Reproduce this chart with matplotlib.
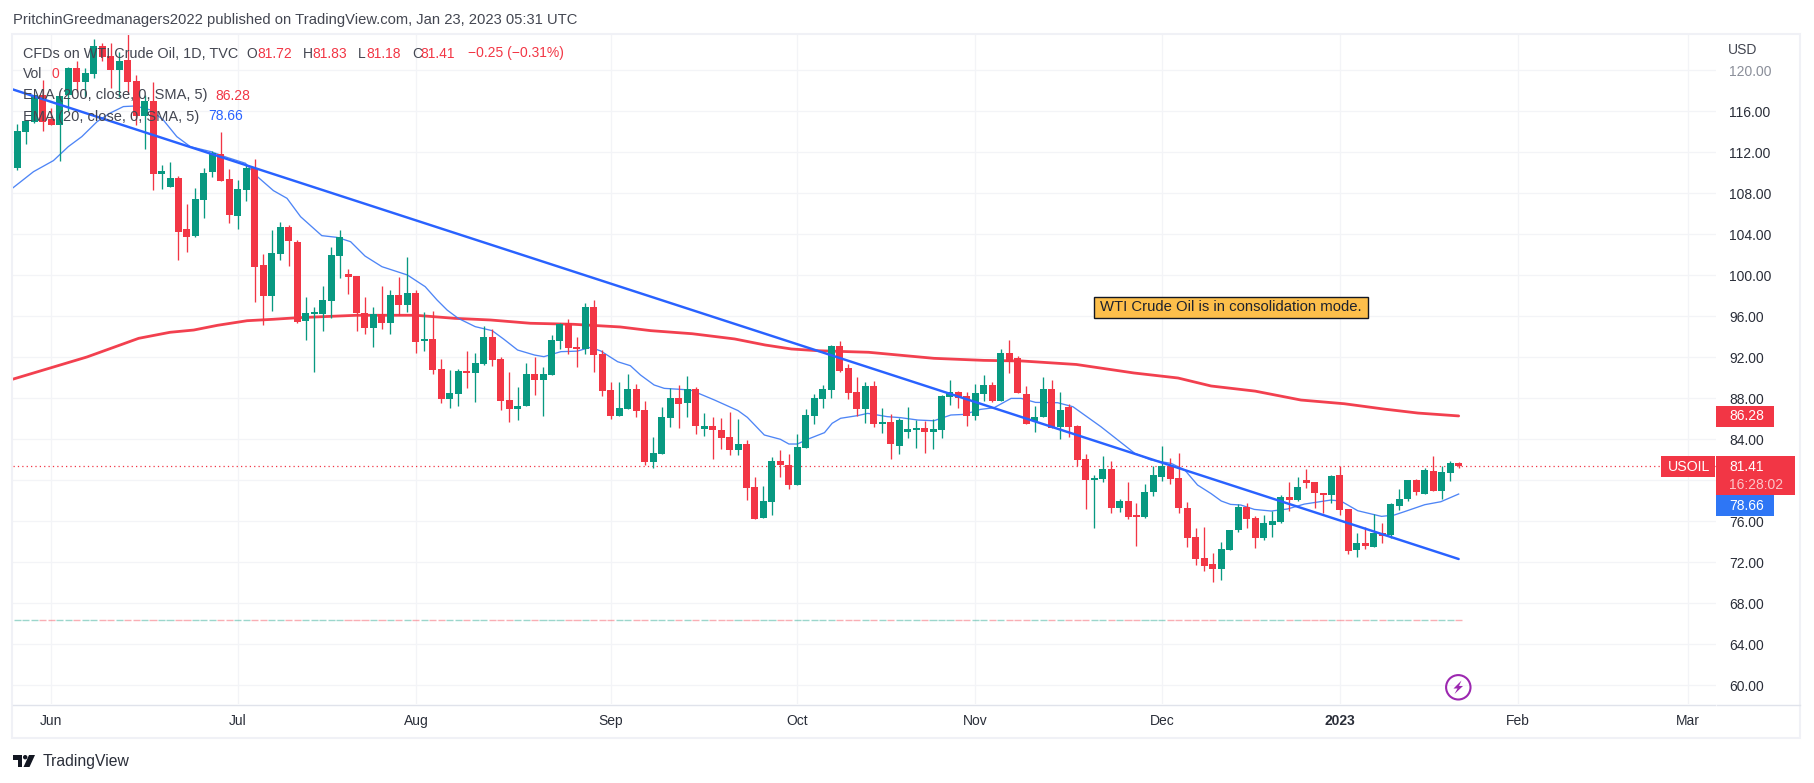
import matplotlib
matplotlib.use("Agg")
import matplotlib.pyplot as plt
from matplotlib.patches import Rectangle, Polygon, Circle

opens = [110.47,113.98,114.93,117.59,115.25,114.67,117.56,120.23,118.86,119.64,
122.37,121.40,120.03,121.01,118.96,115.55,117.01,109.89,108.62,109.50,
104.52,103.84,107.35,110.08,111.84,109.40,105.79,108.33,110.47,101.01,
97.99,102.08,104.72,103.25,95.54,96.23,96.23,97.49,101.88,100.13,
99.93,96.32,94.86,96.23,95.35,98.08,97.10,98.27,93.62,93.79,
90.86,87.93,88.42,90.66,90.47,91.35,93.98,91.83,87.83,86.96,
87.25,90.37,89.78,90.27,93.59,95.35,93.00,92.81,96.91,92.32,
88.81,86.27,86.96,88.91,86.86,81.79,82.57,86.08,88.03,87.54,
88.91,85.00,85.30,84.90,84.23,82.96,83.54,79.35,76.32,77.88,
81.88,81.49,79.54,83.15,86.27,87.93,88.81,93.10,90.96,88.62,
86.96,89.20,85.49,85.69,83.35,84.71,84.90,85.10,84.71,84.90,
88.12,88.61,88.22,86.27,88.42,89.29,87.73,92.42,91.93,88.42,
85.78,86.17,88.90,85.20,87.15,85.29,82.07,80.03,80.12,81.10,
77.29,77.98,76.52,76.42,78.85,80.32,81.39,80.22,77.29,74.46,
72.42,71.83,71.34,73.20,75.15,77.39,76.32,74.37,75.63,75.93,
78.37,78.07,80.02,79.83,78.76,78.56,80.51,77.20,73.20,73.88,
73.49,74.85,74.66,77.49,78.17,80.02,78.66,80.90,78.95,80.70,81.72]
highs = [114.77,115.03,117.59,119.06,116.29,117.50,120.29,120.91,120.20,123.03,
122.63,122.63,121.82,124.00,119.55,117.59,118.86,110.77,111.06,109.69,
106.96,108.50,110.47,112.13,113.98,110.37,109.30,110.77,111.35,102.08,
104.42,105.20,104.91,103.40,97.88,96.91,98.96,102.76,104.42,100.61,
99.93,97.88,96.91,98.96,98.57,99.84,101.79,98.57,96.42,96.52,
91.83,90.76,90.86,92.61,92.42,95.05,94.76,92.03,90.57,89.10,
91.44,92.03,91.05,94.17,95.35,95.74,93.98,97.30,97.59,92.71,
89.59,89.59,90.37,89.40,87.74,84.23,87.15,89.00,89.30,90.18,
89.10,86.57,86.18,86.08,86.66,85.98,83.93,80.32,79.44,82.27,
82.96,82.57,84.52,86.96,88.43,89.30,93.20,93.59,91.35,90.08,
89.59,89.69,87.05,86.47,86.08,87.15,85.88,85.78,85.98,88.32,
89.78,88.71,88.61,89.39,90.27,89.59,92.81,93.68,92.12,89.20,
87.24,90.07,89.78,88.61,87.44,85.39,82.56,80.51,82.37,81.88,
78.17,79.83,77.78,79.63,81.39,83.34,82.17,82.66,77.88,75.34,
75.44,72.90,73.98,75.15,77.68,77.78,76.51,76.61,77.00,78.56,
79.83,80.32,81.10,79.83,78.76,80.51,81.39,77.20,74.85,75.44,
76.71,75.83,77.78,79.15,80.02,80.12,81.20,82.37,81.39,81.88,81.83]
lows = [110.28,112.81,114.83,114.08,114.67,111.19,116.03,117.92,117.37,119.25,
120.88,118.31,117.43,117.69,114.67,112.33,108.33,108.42,108.62,101.50,
102.28,103.74,105.59,109.59,109.20,105.11,104.52,107.25,97.40,95.15,
96.52,101.50,100.91,95.38,93.69,90.57,94.57,95.83,99.74,98.18,
94.57,94.27,93.00,94.76,94.27,96.13,96.42,92.42,92.61,90.37,
87.54,87.05,87.25,89.00,87.64,91.25,91.15,86.86,85.69,85.88,
87.25,88.32,86.27,90.27,92.81,92.32,91.05,92.32,90.57,88.22,
85.98,86.27,86.96,86.18,81.49,81.20,82.57,85.20,85.10,86.18,
84.52,84.32,82.08,83.05,82.47,82.47,78.08,76.23,76.32,76.62,
80.32,79.15,79.54,83.15,85.49,87.05,88.03,90.57,87.93,86.27,
85.59,85.20,84.62,82.08,82.57,84.13,83.15,82.66,83.05,84.12,
87.34,87.05,85.30,85.88,87.73,87.64,87.73,90.46,88.51,85.49,
84.71,86.17,85.10,84.03,84.22,81.39,77.20,75.34,79.83,76.81,
76.90,76.22,73.59,76.32,78.46,79.93,79.63,76.81,73.49,71.73,
71.15,70.07,70.27,73.20,74.95,75.34,73.39,74.17,74.46,75.83,
77.00,77.98,79.24,77.29,76.81,77.78,76.61,72.80,72.51,73.29,
73.49,73.88,74.37,77.10,77.98,78.56,78.66,78.95,78.17,79.93,81.18]
closes = [114.08,115.03,117.59,114.99,114.67,117.50,120.23,118.86,119.74,122.37,
121.30,120.03,120.91,118.86,115.55,117.01,109.89,110.18,109.50,104.23,
103.74,107.45,109.98,111.94,109.20,105.89,108.42,110.47,100.81,97.99,
102.18,104.72,103.35,95.47,96.32,96.42,97.59,101.98,103.74,99.84,
96.32,94.86,96.23,95.35,98.08,97.10,98.27,93.50,93.79,90.76,
87.93,88.52,90.66,90.47,91.44,93.98,91.74,87.74,86.96,87.25,
90.37,89.78,90.37,93.69,95.25,92.91,92.81,96.91,92.22,88.71,
86.27,87.05,88.91,86.76,81.79,82.66,86.18,88.03,87.45,88.91,
85.27,85.30,84.90,84.13,82.96,83.54,79.25,76.23,77.98,81.88,
81.49,79.54,83.25,86.37,88.03,88.91,93.10,90.66,88.52,86.96,
89.20,85.49,85.69,83.54,85.88,85.00,85.10,84.71,85.00,88.22,
88.61,88.02,86.27,88.51,89.29,87.73,92.42,91.54,88.51,85.49,
86.17,88.90,85.10,86.86,85.20,81.98,80.03,80.22,81.10,77.29,
77.98,76.42,76.42,78.85,80.51,81.39,80.12,77.29,74.37,72.32,
71.63,71.34,73.29,75.15,77.39,76.22,74.37,75.83,76.02,78.37,
78.07,79.34,79.73,78.76,78.56,80.41,77.10,73.10,73.88,73.59,
74.85,74.56,77.68,78.17,80.02,78.85,81.00,78.95,80.80,81.68,81.41]

ema200_idx = [-0.6,4,8.2,14.3,18,20.8,23.6,27.1,30.2,33,40,47,51.6,55.8,60.5,65.6,71.1,74.7,79.6,84.6,88.2,91.3,94.5,100.4,108.1,114,118.5,124.9,131.7,136.9,140.8,146,151.4,156.5,161.2,165.2,170]
ema200_val = [89.85,90.99,92.03,93.85,94.44,94.66,95.12,95.57,95.71,95.86,96.10,96.10,95.80,95.64,95.32,95.22,94.96,94.60,94.30,93.79,93.20,92.81,92.64,92.49,91.90,91.70,91.64,91.30,90.47,89.98,89.20,88.70,87.83,87.47,86.95,86.56,86.28]

ema20_idx = [-0.5,1.9,4.25,6,7.6,9.4,10.9,12.5,13.9,15.7,17.2,18.8,20.4,22.8,24.7,26.9,28.3,30.2,31.8,33.4,35.9,37.7,39.3,41,43,46,48.1,49.5,50.7,52,54,56,57.4,59,61,62.1,64.1,66,67.6,68.8,70.8,72.3,73.5,75.1,76.3,79.4,82.2,85,86.1,88.1,90,91,92,93.2,95.2,96.1,97.1,99.1,100.3,102.6,104.2,106.2,108.1,110.1,111.7,113.6,115.2,117.2,118.4,120.1,122.7,124.5,127.8,131.8,133.7,136.1,137.7,139.2,140.8,142,143.1,144.3,145.9,147.9,149.8,151.8,154.9,156.1,158.1,160.9,162.4,163.6,166,167.9,170]
ema20_val = [108.55,110.11,111.19,112.55,113.53,114.99,115.81,116.46,116.52,116.13,115.16,113.53,112.55,112.07,111.51,110.93,109.63,108.26,107.51,105.72,103.87,103.70,103.28,101.88,100.84,100.03,98.89,97.59,96.60,95.80,94.99,94.60,93.75,92.71,92.22,92.06,92.55,92.60,92.97,92.62,91.57,91.18,90.27,89.30,88.97,88.81,87.84,86.80,86.14,84.42,84.00,83.54,83.54,84.00,84.65,85.56,86.05,86.31,86.53,86.21,86.11,85.88,85.81,86.37,86.43,86.92,87.08,87.99,87.99,87.60,87.57,87.18,85.23,82.63,81.98,81.65,81.00,79.54,78.70,77.98,77.65,77.59,77.16,77.00,77.20,77.68,78.07,77.98,77.03,76.48,76.61,76.94,77.62,77.91,78.66]

trend_idx = [-0.6, 170]
trend_val = [118.15, 72.32]

last_price = 81.41
volume_level = 66.34
price_ticks = [60,64,68,72,76,80,84,88,92,96,100,104,108,112,116,120]
price_labels = ["60.00","64.00","68.00","72.00","76.00","","84.00","88.00","92.00","96.00","100.00","104.00","108.00","112.00","116.00","120.00"]
month_idx = [4,26,47,70,92,113,135,156,177,197]
month_labels = ["Jun","Jul","Aug","Sep","Oct","Nov","Dec","2023","Feb","Mar"]

RED, GREEN, BLUE = "#f23645", "#089981", "#2962ff"
DARK = "#2a2e39"
plt.rcParams["font.family"] = ["Liberation Sans", "DejaVu Sans"]
FS = 10.0
W, H = 1814, 783
fig = plt.figure(figsize=(W/100, H/100), dpi=100, facecolor="white")
L, R, T, B = 13, 1716, 34, 704
ax = fig.add_axes([L/W, 1-B/H, (R-L)/W, (B-T)/H])
X0, DX = 17.4, 8.478
ax.set_xlim((L-X0)/DX, (R-X0)/DX)
ax.set_ylim(88-(B-398.3)/10.25, 88+(398.3-T)/10.25)
ax.set_axisbelow(True)
ax.grid(True, color="#f3f4f7", lw=0.95)
for s in ax.spines.values():
    s.set_visible(False)
ax.yaxis.tick_right()
ax.set_yticks(price_ticks)
ax.set_yticklabels(price_labels, fontsize=FS, color=DARK)
ax.get_yticklabels()[-1].set_color("#8a8e99")
ax.set_xticks(month_idx)
ax.set_xticklabels(month_labels, fontsize=FS, color=DARK)
ax.get_xticklabels()[7].set_fontweight("bold")
ax.tick_params(axis="y", length=0, pad=9.4)
ax.tick_params(axis="x", length=0, pad=7.5)

ax.plot(ema200_idx, ema200_val, color=RED, lw=2.0, alpha=0.95, zorder=2, solid_capstyle="round")
ax.plot(ema20_idx, ema20_val, color="#3b78f5", lw=0.95, alpha=0.9, zorder=2)
ax.axhline(last_price, color=RED, lw=0.9, ls=(0,(1,2.5)), zorder=2)

for i, (o, h, l, c) in enumerate(zip(opens, highs, lows, closes)):
    col = GREEN if c >= o else RED
    ax.vlines(i, l, h, color=col, lw=0.95, zorder=3)
    ax.bar(i, max(abs(c-o), 0.2), bottom=min(o, c), width=7/DX, color=col, zorder=4, linewidth=0)
    ax.hlines(volume_level, i-0.42, i+0.42, color=col, alpha=0.4, lw=1.0, zorder=2)

ax.plot(trend_idx, trend_val, color=BLUE, lw=1.75, zorder=5, solid_capstyle="round")

# pixel overlay for frame, badges and annotations
ov = fig.add_axes([0, 0, 1, 1], zorder=10)
ov.set_xlim(0, W); ov.set_ylim(H, 0); ov.axis("off"); ov.patch.set_alpha(0)

ov.add_patch(Rectangle((12, 33.5), 1788, 704.5, fill=False, ec="#f0f1f6", lw=1.5))
ov.plot([13, 1715], [704.5, 704.5], color="#e0e3eb", lw=1.0)
ov.plot([1717, 1800], [704.5, 704.5], color="#e0e3eb", lw=1.0)

def txt(x, y, s, color=DARK, fs=FS, **kw):
    return ov.text(x, y, s, color=color, fontsize=fs, va="center", ha=kw.pop("ha", "left"), **kw)

LEG = "#434651"
txt(13, 20, "PritchinGreedmanagers2022 published on TradingView.com, Jan 23, 2023 05:31 UTC", color=LEG, fs=10.6)
txt(1728, 50, "USD", color=LEG)

txt(23, 53.5, "CFDs on WTI Crude Oil, 1D, TVC", color=LEG, fs=10.4)
for x, s, col in [(246, "O", LEG), (257, "81.72", RED), (302.5, "H", LEG), (312, "81.83", RED),
                  (358, "L", LEG), (366, "81.18", RED), (412, "C", LEG), (420, "81.41", RED),
                  (468, "\u22120.25 (\u22120.31%)", RED)]:
    txt(x, 53.5, s, color=col)
txt(23, 74.5, "Vol", color=LEG); txt(52, 74.5, "0", color=RED)
txt(23, 95.5, "EMA (200, close, 0, SMA, 5)", color=LEG, fs=10.5); txt(215.5, 95.5, "86.28", color=RED)
txt(23, 116.5, "EMA (20, close, 0, SMA, 5)", color=LEG, fs=10.5); txt(208, 116.5, "78.66", color=BLUE)

ov.add_patch(Rectangle((1094, 297), 274, 20.5, fc="#fdbf4b", ec="#131722", lw=1.0))
txt(1100, 307.3, "WTI Crude Oil is in consolidation mode.", color="#1e222d", fs=10.7)

def badge(x, y, w, h, col):
    ov.add_patch(Rectangle((x, y), w, h, fc=col, ec="none"))

badge(1716, 406, 58, 20.7, RED); txt(1729, 416.5, "86.28", color="white", fs=10.0)
badge(1661, 456, 54, 20.7, RED); txt(1668, 466.8, "USOIL", color="white", fs=10.2)
badge(1716, 456, 79, 39, RED)
txt(1729, 466.6, "81.41", color="white", fs=10.0)
txt(1729, 484.8, "16:28:02", color="#fbc5c9", fs=10.0)
badge(1716, 495.3, 58, 20.4, "#2e76f5"); txt(1729, 505.7, "78.66", color="white", fs=10.0)

# lightning icon
ov.add_patch(Circle((1458.3, 687.3), 12.2, fill=False, ec="#9c27b0", lw=1.5))
ov.add_patch(Polygon([(1461.5,680.5),(1453.5,688.5),(1457.5,688.5),(1454.5,694),(1463,686),(1459,686)],
                     closed=True, fc="#9c27b0", ec="none"))

# TradingView logo + name
LOGO = "#131722"
ov.add_patch(Polygon([(13,755),(22,755),(22,767),(17.5,767),(17.5,759.5),(13,759.5)], closed=True, fc=LOGO, ec="none"))
ov.add_patch(Circle((25.2, 757.2), 2.2, fc=LOGO, ec="none"))
ov.add_patch(Polygon([(29,755),(35,755),(29.5,767),(23.5,767)], closed=True, fc=LOGO, ec="none"))
txt(43, 761.5, "TradingView", color=DARK, fs=11.3)

fig.savefig("out.png", dpi=100, facecolor="white")
